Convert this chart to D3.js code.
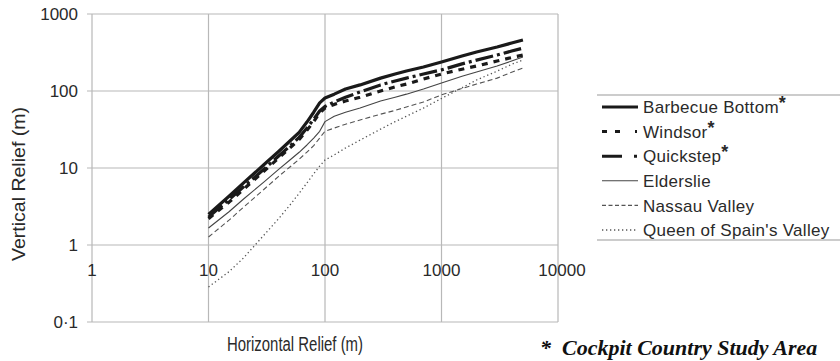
<!DOCTYPE html>
<html>
<head>
<meta charset="utf-8">
<script src="https://cdn.jsdelivr.net/npm/d3@7"></script>
<style>
  html, body { margin: 0; padding: 0; background: #fff; }
  svg { display: block; }
</style>
</head>
<body>
<svg id="chart" width="840" height="361"></svg>
<script>
// ---- data ----
const xValues = [10, 15, 20, 30, 40, 50, 60, 70, 80, 90, 100, 120, 150, 200, 300, 400, 500, 700, 1000, 1500, 2000, 3000, 4000, 5000];
const barbecueBottom = [2.5, 4.3, 6.4, 11.1, 16.4, 22.4, 29, 39.5, 53, 70, 81, 91, 106, 120, 147, 166, 182, 205, 238, 285, 321, 372, 420, 459];
const windsor        = [2.2, 3.6, 5.3, 9.1, 13.5, 18.2, 23.5, 31, 40, 52, 60, 67, 74, 83, 100, 113, 123, 143, 166, 192, 211, 245, 272, 293];
const quickstep      = [2.3, 3.9, 5.7, 9.7, 14.3, 19.3, 25, 33, 43, 55, 63, 72, 83, 97, 120, 135, 147, 166, 188, 225, 252, 293, 330, 360];
const elderslie      = [1.66, 2.7, 3.96, 6.6, 9.6, 12.7, 16, 19.9, 24.5, 30, 40, 47, 53, 60, 74, 83, 91, 106, 127, 155, 176, 211, 245, 276];
const nassauValley   = [1.27, 2.1, 3.1, 5.3, 7.8, 10.3, 13, 16.1, 19.5, 24.5, 30, 33, 37, 42, 50, 56, 62, 72, 89, 108, 123, 147, 175, 199];
const queenOfSpain   = [0.285, 0.45, 0.68, 1.35, 2.2, 3.3, 4.7, 6.4, 8.4, 10.6, 12.7, 14.8, 18.2, 23, 32, 40, 47, 60, 80, 110, 139, 181, 222, 253];

const seriesNames = ["Barbecue Bottom", "Windsor", "Quickstep", "Elderslie", "Nassau Valley", "Queen of Spain's Valley"];
const seriesStarred = [true, true, true, false, false, false];
const xTicks = [1, 10, 100, 1000, 10000];
const xTickLabels = ["1", "10", "100", "1000", "10000"];
const yTicks = [0.1, 1, 10, 100, 1000];
const yTickLabels = ["0·1", "1", "10", "100", "1000"];
const xTitle = "Horizontal Relief (m)";
const yTitle = "Vertical Relief (m)";
const footnote = "*  Cockpit Country Study Area";

// ---- styles ----
const styles = [
  { color: "#1a1a1a", width: 3.2, dash: null, legendDash: null },
  { color: "#1a1a1a", width: 3.2, dash: "6,6", legendDash: "5,8,5,15,2,20" },
  { color: "#1a1a1a", width: 3.2, dash: "18,4,3,4", legendDash: "20,12,3,20" },
  { color: "#444", width: 1.1, dash: null, legendDash: null },
  { color: "#555", width: 1.1, dash: "5,3", legendDash: "4,2.5" },
  { color: "#555", width: 1.3, dash: "1.3,2.7", legendDash: "1.3,2.7" }
];
const seriesData = [barbecueBottom, windsor, quickstep, elderslie, nassauValley, queenOfSpain];

const svg = d3.select("#chart");
const plotL = 92, plotR = 558, plotT = 14, plotB = 322;
const x = d3.scaleLog().domain([1, 10000]).range([plotL, plotR]);
const y = d3.scaleLog().domain([0.1, 1000]).range([plotB, plotT]);
const gridColor = "#b8b8b8";
const textColor = "#2a2a2a";

// grid lines
svg.append("g").selectAll("line").data(xTicks).join("line")
  .attr("x1", d => x(d)).attr("x2", d => x(d))
  .attr("y1", plotT).attr("y2", plotB)
  .attr("stroke", gridColor).attr("stroke-width", 1.2);
svg.append("g").selectAll("line").data(yTicks).join("line")
  .attr("x1", plotL - 5).attr("x2", plotR)
  .attr("y1", d => y(d)).attr("y2", d => y(d))
  .attr("stroke", gridColor).attr("stroke-width", 1.2);

// y tick labels
svg.append("g").selectAll("text").data(yTicks).join("text")
  .attr("x", 78).attr("y", d => y(d)).attr("dy", "0.36em")
  .attr("text-anchor", "end")
  .attr("font-family", "Liberation Sans, Arial, sans-serif")
  .attr("font-size", 17).attr("fill", textColor)
  .text((d, i) => yTickLabels[i]);

// x tick labels (sit under the y=1 line)
svg.append("g").selectAll("text").data(xTicks).join("text")
  .attr("x", d => x(d) + (d === 10000 ? 4 : 0)).attr("y", y(1) + 31)
  .attr("text-anchor", "middle")
  .attr("font-family", "Liberation Sans, Arial, sans-serif")
  .attr("font-size", 17).attr("fill", textColor)
  .text((d, i) => xTickLabels[i]);

// axis titles
svg.append("text")
  .attr("x", 295).attr("y", 351)
  .attr("text-anchor", "middle")
  .attr("font-family", "Liberation Sans Narrow, Liberation Sans, Arial, sans-serif")
  .attr("font-size", 20).attr("fill", textColor)
  .attr("textLength", 136).attr("lengthAdjust", "spacingAndGlyphs")
  .text(xTitle);
svg.append("text")
  .attr("transform", "translate(25,184) rotate(-90)")
  .attr("text-anchor", "middle")
  .attr("font-family", "Liberation Sans, Arial, sans-serif")
  .attr("font-size", 18).attr("fill", textColor)
  .attr("textLength", 154).attr("lengthAdjust", "spacingAndGlyphs")
  .text(yTitle);

// lines
const line = d3.line().x(d => x(d[0])).y(d => y(d[1]));
seriesData.forEach((vals, i) => {
  const pts = xValues.map((xv, j) => [xv, vals[j]]);
  const st = styles[i];
  svg.append("path").datum(pts)
    .attr("d", line)
    .attr("fill", "none")
    .attr("stroke", st.color)
    .attr("stroke-width", st.width)
    .attr("stroke-dasharray", st.dash)
    .attr("stroke-linejoin", "round");
});

// legend
const lg = svg.append("g");
lg.append("line").attr("x1", 597).attr("x2", 845).attr("y1", 95).attr("y2", 95)
  .attr("stroke", "#999").attr("stroke-width", 1.2);
lg.append("line").attr("x1", 597).attr("x2", 845).attr("y1", 240).attr("y2", 240)
  .attr("stroke", "#999").attr("stroke-width", 1.2);
seriesNames.forEach((name, i) => {
  const cy = 107 + i * 24.6;
  const st = styles[i];
  lg.append("line")
    .attr("x1", 602).attr("x2", 638).attr("y1", cy).attr("y2", cy)
    .attr("stroke", st.color)
    .attr("stroke-width", i < 3 ? 3 : st.width)
    .attr("stroke-dasharray", st.legendDash);
  const t = lg.append("text")
    .attr("x", 643).attr("y", cy).attr("dy", "0.36em")
    .attr("font-family", "Liberation Sans, Arial, sans-serif")
    .attr("font-size", 17).attr("fill", textColor)
    .attr("letter-spacing", 0.3)
    .text(name);
  if (seriesStarred[i]) {
    t.append("tspan").attr("dy", -4).attr("font-weight", "bold").attr("font-size", 18).text("*");
  }
});

// footnote
svg.append("text")
  .attr("x", 540).attr("y", 355)
  .attr("font-family", "Liberation Serif, Times New Roman, serif")
  .attr("font-size", 22).attr("font-weight", "bold").attr("font-style", "italic")
  .attr("fill", "#111")
  .attr("xml:space", "preserve")
  .text(footnote);
</script>
</body>
</html>
